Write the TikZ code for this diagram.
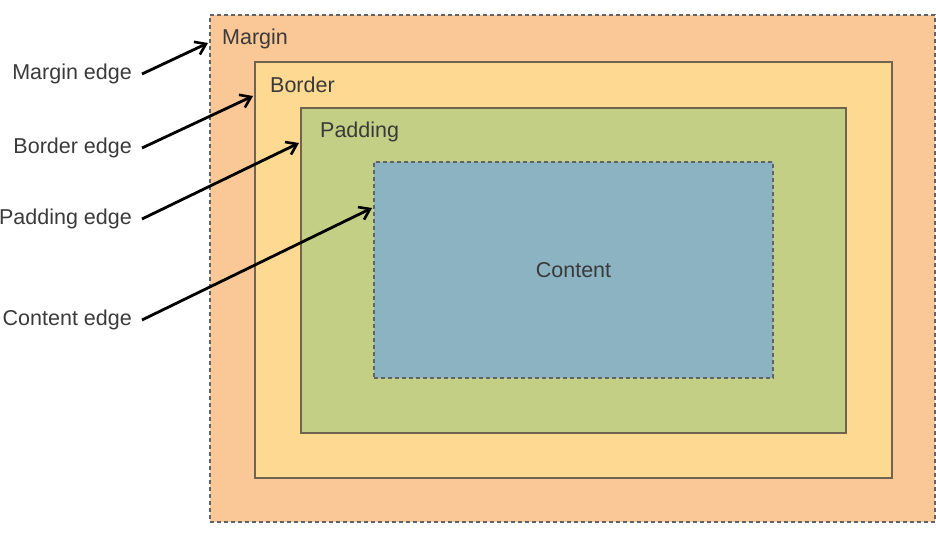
\documentclass[tikz,border=0pt]{standalone}
\usepackage{fontspec}
\setmainfont{Liberation Sans}
\usetikzlibrary{arrows.meta, positioning}

\definecolor{marginfill}{HTML}{F9C896}
\definecolor{borderfill}{HTML}{FDD992}
\definecolor{paddingfill}{HTML}{C3CF84}
\definecolor{contentfill}{HTML}{8BB3C1}
\definecolor{edgeline}{HTML}{6E6450}
\definecolor{dashline}{HTML}{5E6468}
\definecolor{labeltext}{HTML}{3A3A3A}

\begin{document}
\begin{tikzpicture}[x=1pt, y=-1pt,
    layer/.style={draw=edgeline, line width=1.2pt, anchor=north west, inner sep=0pt, outer sep=0pt},
    dashlayer/.style={layer, draw=dashline, line width=1.3pt, dash pattern=on 4pt off 3pt},
    caption/.style={text=labeltext, font=\fontsize{21.5}{26}\selectfont, inner sep=0pt},
    edgename/.style={caption, anchor=east, inner xsep=10pt},
    pointer/.style={-{Straight Barb[length=10pt, width=14pt, line width=2.6pt]}, line width=2.8pt, black}
]
    % Page
    \useasboundingbox (0,0) rectangle (936,534);

    % Boxes, outside in
    \node[dashlayer, fill=marginfill, minimum width=725pt, minimum height=507pt] (margin) at (210,15) {};
    \node[layer, fill=borderfill, minimum width=637pt, minimum height=416pt] (border) at (255,62) {};
    \node[layer, fill=paddingfill, minimum width=545pt, minimum height=325pt] (padding) at (301,108) {};
    \node[dashlayer, fill=contentfill, minimum width=399pt, minimum height=216pt] (content) at (374,162) {};

    % Box titles
    \node[caption, anchor=west] (margintitle) at (222,39) {Margin};
    \node[caption, anchor=west] (bordertitle) at (270,85) {Border};
    \node[caption, anchor=west] (paddingtitle) at (320,132) {Padding};
    \node[caption] (contenttitle) at (content.center) {Content};

    % Edge names
    \node[edgename] (marginedge) at (142,74) {Margin edge};
    \node[edgename] (borderedge) at (142,148) {Border edge};
    \node[edgename] (paddingedge) at (142,219) {Padding edge};
    \node[edgename] (contentedge) at (142,320) {Content edge};

    % Where the arrows land
    \coordinate (margintip) at (208,43);
    \coordinate (bordertip) at (253,96);
    \coordinate (paddingtip) at (299,143);
    \coordinate (contenttip) at (372,208);

    % Arrows
    \foreach \e in {margin, border, padding, content}
    {
        \draw[pointer] (\e edge.east) -- (\e tip);
    }
\end{tikzpicture}
\end{document}
